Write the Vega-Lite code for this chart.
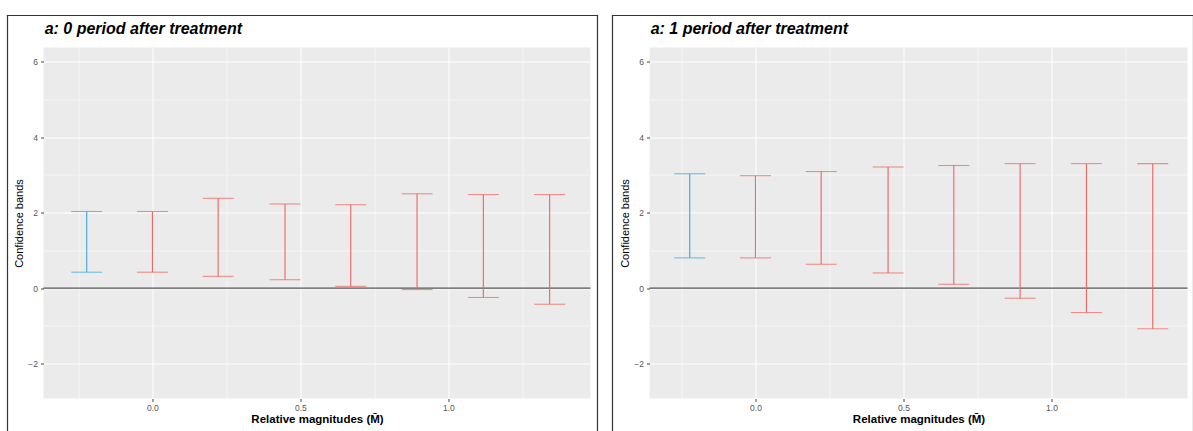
{
  "$schema": "https://vega.github.io/schema/vega-lite/v6.json",
  "padding": {"left": 6.5, "top": 14.5, "right": 0, "bottom": 0},
  "background": "white",
  "spacing": 13,
  "datasets": {
    "p0": [
      {"m": -0.222, "lo": 0.42, "hi": 2.03, "method": "Original"},
      {"m": 0.0, "lo": 0.42, "hi": 2.03, "method": "C-LF"},
      {"m": 0.222, "lo": 0.31, "hi": 2.38, "method": "C-LF"},
      {"m": 0.448, "lo": 0.22, "hi": 2.23, "method": "C-LF"},
      {"m": 0.670, "lo": 0.045, "hi": 2.21, "method": "C-LF"},
      {"m": 0.894, "lo": -0.04, "hi": 2.50, "method": "C-LF"},
      {"m": 1.118, "lo": -0.25, "hi": 2.48, "method": "C-LF"},
      {"m": 1.342, "lo": -0.43, "hi": 2.48, "method": "C-LF"}
    ],
    "p1": [
      {"m": -0.222, "lo": 0.80, "hi": 3.03, "method": "Original"},
      {"m": 0.0, "lo": 0.80, "hi": 2.98, "method": "C-LF"},
      {"m": 0.222, "lo": 0.63, "hi": 3.09, "method": "C-LF"},
      {"m": 0.448, "lo": 0.40, "hi": 3.21, "method": "C-LF"},
      {"m": 0.670, "lo": 0.10, "hi": 3.25, "method": "C-LF"},
      {"m": 0.894, "lo": -0.27, "hi": 3.30, "method": "C-LF"},
      {"m": 1.118, "lo": -0.65, "hi": 3.30, "method": "C-LF"},
      {"m": 1.342, "lo": -1.08, "hi": 3.30, "method": "C-LF"}
    ]
  },
  "hconcat": [
    {
      "width": 547,
      "height": 351,
      "title": {"text": "a: 0 period after treatment", "anchor": "start", "offset": -22.5, "dx": 38},
      "resolve": {"axis": {"x": "independent", "y": "independent"}},
      "layer": [
        {
          "data": {"values": [{}]},
          "mark": {"type": "rule", "color": "#333333", "strokeWidth": 1.2, "clip": false, "strokeCap": "square"},
          "encoding": {
            "x": {"datum": -0.4896, "type": "quantitative", "axis": {"orient": "bottom", "values": [-0.25, 0.25, 0.75, 1.25], "grid": true, "gridWidth": 0.5, "labels": false, "ticks": false, "title": null}},
            "y": {"datum": 7.229, "type": "quantitative", "axis": {"orient": "left", "values": [-1, 1, 3, 5], "grid": true, "gridWidth": 0.5, "labels": false, "ticks": false, "title": null}},
            "y2": {"datum": -3.8}
          }
        },
        {
          "data": {"values": [{}]},
          "mark": {"type": "rule", "color": "#333333", "strokeWidth": 1.2, "clip": false, "strokeCap": "square"},
          "encoding": {
            "x": {"datum": 1.5036, "type": "quantitative", "axis": null},
            "y": {"datum": 7.229, "type": "quantitative", "axis": null},
            "y2": {"datum": -3.8}
          }
        },
        {
          "data": {"values": [{}]},
          "mark": {"type": "rule", "color": "#333333", "strokeWidth": 1.2, "clip": false, "strokeCap": "square"},
          "encoding": {
            "x": {"datum": -0.4896, "type": "quantitative", "axis": null},
            "x2": {"datum": 1.5036},
            "y": {"datum": 7.229, "type": "quantitative", "axis": null}
          }
        },
        {
          "data": {"values": [{}]},
          "mark": {"type": "rule", "color": "#555555", "strokeWidth": 1.3},
          "encoding": {
            "y": {"datum": 0, "type": "quantitative", "axis": null}
          }
        },
        {
          "data": {"name": "p0"},
          "mark": {"type": "rule", "strokeWidth": 1.1},
          "encoding": {
            "x": {"field": "m", "type": "quantitative", "scale": {"domain": [-0.368, 1.48], "nice": false, "zero": false},
                  "axis": {"orient": "bottom", "values": [0, 0.5, 1], "format": ".1f", "grid": true, "title": "Relative magnitudes (M̄)", "titleFontWeight": "bold", "titleFontSize": 11.5, "titlePadding": 1, "labelPadding": 2}},
            "y": {"field": "lo", "type": "quantitative", "scale": {"domain": [-2.93, 6.38], "nice": false, "zero": false},
                  "axis": {"orient": "left", "values": [-2, 0, 2, 4, 6], "grid": true, "title": "Confidence bands", "titleFontWeight": "normal", "titleFontSize": 11, "titlePadding": 3, "labelPadding": 3}},
            "y2": {"field": "hi"},
            "color": {"field": "method", "type": "nominal", "scale": {"domain": ["Original", "C-LF"], "range": ["#3AA6DD", "#F0645E"]}, "legend": null}
          }
        },
        {
          "data": {"name": "p0"},
          "mark": {"type": "tick", "orient": "horizontal", "size": 31, "thickness": 1.1},
          "encoding": {
            "x": {"field": "m", "type": "quantitative", "axis": null},
            "y": {"field": "lo", "type": "quantitative", "axis": null},
            "color": {"field": "method", "type": "nominal", "legend": null}
          }
        },
        {
          "data": {"name": "p0"},
          "mark": {"type": "tick", "orient": "horizontal", "size": 31, "thickness": 1.1},
          "encoding": {
            "x": {"field": "m", "type": "quantitative", "axis": null},
            "y": {"field": "hi", "type": "quantitative", "axis": null},
            "color": {"field": "method", "type": "nominal", "legend": null}
          }
        }
      ]
    },
    {
      "width": 538,
      "height": 351,
      "title": {"text": "a: 1 period after treatment", "anchor": "start", "offset": -22.5, "dx": 39},
      "resolve": {"axis": {"x": "independent", "y": "independent"}},
      "layer": [
        {
          "data": {"values": [{}]},
          "mark": {"type": "rule", "color": "#333333", "strokeWidth": 1.2, "clip": false, "strokeCap": "square"},
          "encoding": {
            "x": {"datum": -0.483, "type": "quantitative", "axis": {"orient": "bottom", "values": [-0.25, 0.25, 0.75, 1.25], "grid": true, "gridWidth": 0.5, "labels": false, "ticks": false, "title": null}},
            "y": {"datum": 7.229, "type": "quantitative", "axis": {"orient": "left", "values": [-1, 1, 3, 5], "grid": true, "gridWidth": 0.5, "labels": false, "ticks": false, "title": null}},
            "y2": {"datum": -3.8}
          }
        },
        {
          "data": {"values": [{}]},
          "mark": {"type": "rule", "color": "#333333", "strokeWidth": 1.2, "clip": false, "strokeCap": "square"},
          "encoding": {
            "x": {"datum": 1.4798, "type": "quantitative", "axis": null},
            "y": {"datum": 7.229, "type": "quantitative", "axis": null},
            "y2": {"datum": -3.8}
          }
        },
        {
          "data": {"values": [{}]},
          "mark": {"type": "rule", "color": "#333333", "strokeWidth": 1.2, "clip": false, "strokeCap": "square"},
          "encoding": {
            "x": {"datum": -0.483, "type": "quantitative", "axis": null},
            "x2": {"datum": 1.4798},
            "y": {"datum": 7.229, "type": "quantitative", "axis": null}
          }
        },
        {
          "data": {"values": [{}]},
          "mark": {"type": "rule", "color": "#555555", "strokeWidth": 1.3},
          "encoding": {
            "y": {"datum": 0, "type": "quantitative", "axis": null}
          }
        },
        {
          "data": {"name": "p1"},
          "mark": {"type": "rule", "strokeWidth": 1.1},
          "encoding": {
            "x": {"field": "m", "type": "quantitative", "scale": {"domain": [-0.358, 1.4595], "nice": false, "zero": false},
                  "axis": {"orient": "bottom", "values": [0, 0.5, 1], "format": ".1f", "grid": true, "title": "Relative magnitudes (M̄)", "titleFontWeight": "bold", "titleFontSize": 11.5, "titlePadding": 1, "labelPadding": 2}},
            "y": {"field": "lo", "type": "quantitative", "scale": {"domain": [-2.93, 6.38], "nice": false, "zero": false},
                  "axis": {"orient": "left", "values": [-2, 0, 2, 4, 6], "grid": true, "title": "Confidence bands", "titleFontWeight": "normal", "titleFontSize": 11, "titlePadding": 3, "labelPadding": 3}},
            "y2": {"field": "hi"},
            "color": {"field": "method", "type": "nominal", "scale": {"domain": ["Original", "C-LF"], "range": ["#3AA6DD", "#F0645E"]}, "legend": null}
          }
        },
        {
          "data": {"name": "p1"},
          "mark": {"type": "tick", "orient": "horizontal", "size": 31, "thickness": 1.1},
          "encoding": {
            "x": {"field": "m", "type": "quantitative", "axis": null},
            "y": {"field": "lo", "type": "quantitative", "axis": null},
            "color": {"field": "method", "type": "nominal", "legend": null}
          }
        },
        {
          "data": {"name": "p1"},
          "mark": {"type": "tick", "orient": "horizontal", "size": 31, "thickness": 1.1},
          "encoding": {
            "x": {"field": "m", "type": "quantitative", "axis": null},
            "y": {"field": "hi", "type": "quantitative", "axis": null},
            "color": {"field": "method", "type": "nominal", "legend": null}
          }
        }
      ]
    }
  ],
  "config": {
    "font": "Liberation Sans",
    "view": {"fill": "#EBEBEB", "stroke": null},
    "axis": {
      "domain": false,
      "labelColor": "#555555",
      "labelFontSize": 8.5,
      "tickColor": "#444444",
      "tickSize": 3,
      "gridColor": "#FFFFFF",
      "gridWidth": 1,
      "titleColor": "#000000",
      "titleFontSize": 10
    },
    "title": {
      "fontSize": 16,
      "fontStyle": "italic",
      "fontWeight": "bold",
      "color": "#000000",
      "baseline": "alphabetic"
    }
  }
}
